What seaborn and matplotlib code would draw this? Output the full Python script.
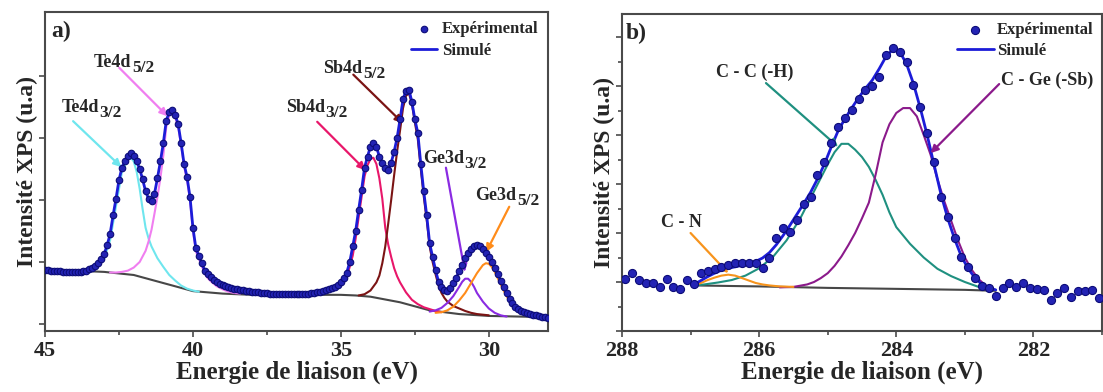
import numpy as np
import matplotlib
matplotlib.use('Agg')
import matplotlib.pyplot as plt
import matplotlib.transforms as mtransforms
import seaborn as sns

# ---------- panel a : Te4d / Sb4d / Ge3d ----------
energy_a = np.round(np.arange(45.0, 27.95, -0.1), 1)
exp_a = [0.87, 0.87, 0.86, 0.86, 0.85, 0.85, 0.84, 0.84, 0.84, 0.84,
         0.84, 0.84, 0.84, 0.85, 0.86, 0.88, 0.90, 0.94, 0.99, 1.05,
         1.13, 1.27, 1.45, 1.75, 2.02, 2.32, 2.52, 2.63, 2.71, 2.76,
         2.71, 2.62, 2.50, 2.33, 2.14, 2.02, 1.99, 2.10, 2.35, 2.62,
         2.92, 3.28, 3.42, 3.45, 3.37, 3.22, 2.92, 2.58, 2.37, 2.05,
         1.55, 1.22, 1.10, 0.98, 0.86, 0.80, 0.75, 0.71, 0.68, 0.65,
         0.63, 0.61, 0.59, 0.58, 0.57, 0.56, 0.55, 0.54, 0.53, 0.53,
         0.52, 0.51, 0.51, 0.50, 0.50, 0.50, 0.49, 0.49, 0.49, 0.48,
         0.48, 0.48, 0.48, 0.48, 0.48, 0.48, 0.48, 0.49, 0.49, 0.49,
         0.50, 0.50, 0.51, 0.52, 0.53, 0.54, 0.56, 0.58, 0.60, 0.63,
         0.68, 0.74, 0.83, 1.00, 1.25, 1.50, 1.84, 2.16, 2.52, 2.70,
         2.86, 2.92, 2.86, 2.70, 2.60, 2.51, 2.48, 2.60, 2.78, 3.00,
         3.30, 3.62, 3.76, 3.78, 3.58, 3.30, 3.08, 2.58, 2.14, 1.75,
         1.30, 1.08, 0.87, 0.68, 0.60, 0.54, 0.53, 0.58, 0.66, 0.74,
         0.86, 0.95, 1.06, 1.14, 1.21, 1.25, 1.27, 1.26, 1.21, 1.14,
         1.08, 1.00, 0.90, 0.80, 0.70, 0.60, 0.50, 0.41, 0.34, 0.28,
         0.24, 0.21, 0.19, 0.17, 0.16, 0.15, 0.14, 0.13, 0.12, 0.11,
         0.10]

base_a_x = [45, 44, 43, 42, 41, 40, 39, 38, 37, 36, 35, 34.5, 34, 33, 32, 31, 30, 29, 28]
base_a_y = [0.85, 0.86, 0.84, 0.79, 0.66, 0.53, 0.49, 0.47, 0.47, 0.47, 0.47, 0.46,
            0.44, 0.35, 0.22, 0.16, 0.13, 0.12, 0.11]

te32_x = [43.6, 43.3, 43.0, 42.8, 42.6, 42.4, 42.2, 42.1, 42.0, 41.9, 41.8, 41.7,
          41.6, 41.5, 41.4, 41.2, 41.0, 40.8, 40.6, 40.4, 40.2, 40.0, 39.8]
te32_y = [0.85, 0.90, 1.05, 1.35, 1.90, 2.45, 2.66, 2.68, 2.62, 2.45, 2.18, 1.85,
          1.55, 1.38, 1.25, 1.06, 0.92, 0.79, 0.70, 0.62, 0.57, 0.54, 0.52]

te52_x = [42.8, 42.6, 42.4, 42.2, 42.0, 41.8, 41.6, 41.5, 41.4, 41.3, 41.2, 41.1,
          41.0, 40.9, 40.8, 40.7, 40.6, 40.5, 40.4, 40.3, 40.2, 40.1, 40.0, 39.9,
          39.8, 39.7, 39.6, 39.5, 39.4, 39.2, 39.0, 38.8, 38.6, 38.4]
te52_y = [0.83, 0.83, 0.84, 0.86, 0.91, 1.00, 1.18, 1.33, 1.52, 1.78, 2.05, 2.35,
          2.72, 3.18, 3.36, 3.42, 3.33, 3.18, 2.88, 2.54, 2.32, 2.00, 1.50, 1.17,
          1.05, 0.93, 0.81, 0.74, 0.69, 0.61, 0.56, 0.52, 0.50, 0.49]

sb32_x = [35.2, 35.0, 34.8, 34.6, 34.5, 34.4, 34.3, 34.2, 34.1, 34.0, 33.9, 33.8,
          33.7, 33.6, 33.5, 33.4, 33.3, 33.2, 33.1, 33.0, 32.8, 32.6, 32.4, 32.2,
          32.0, 31.8, 31.6]
sb32_y = [0.58, 0.62, 0.75, 1.10, 1.38, 1.72, 2.05, 2.38, 2.56, 2.66, 2.68, 2.58,
          2.35, 2.02, 1.55, 1.28, 1.08, 0.90, 0.77, 0.67, 0.51, 0.39, 0.32, 0.27,
          0.24, 0.21, 0.19]

sb52_x = [34.4, 34.2, 34.0, 33.8, 33.7, 33.6, 33.5, 33.4, 33.3, 33.2, 33.1, 33.0,
          32.9, 32.8, 32.7, 32.6, 32.5, 32.4, 32.3, 32.2, 32.1, 32.0, 31.9, 31.8,
          31.7, 31.6, 31.5, 31.4, 31.2, 31.0, 30.8, 30.6, 30.4, 30.0]
sb52_y = [0.46, 0.48, 0.54, 0.67, 0.78, 0.98, 1.25, 1.62, 2.00, 2.40, 2.78, 3.12,
          3.48, 3.68, 3.72, 3.55, 3.25, 2.98, 2.50, 2.06, 1.68, 1.25, 1.00, 0.80,
          0.62, 0.50, 0.42, 0.36, 0.29, 0.25, 0.21, 0.18, 0.16, 0.14]

ge32_x = [32.0, 31.8, 31.6, 31.4, 31.2, 31.0, 30.9, 30.8, 30.7, 30.6, 30.5, 30.4,
          30.2, 30.0, 29.8, 29.6, 29.4]
ge32_y = [0.20, 0.22, 0.26, 0.34, 0.45, 0.60, 0.68, 0.73, 0.73, 0.68, 0.60, 0.50,
          0.36, 0.25, 0.18, 0.14, 0.12]

ge52_x = [31.8, 31.6, 31.4, 31.2, 31.0, 30.8, 30.6, 30.4, 30.2, 30.1, 30.0, 29.9,
          29.8, 29.7, 29.6, 29.5, 29.4, 29.3, 29.2, 29.0, 28.8, 28.6, 28.4]
ge52_y = [0.18, 0.19, 0.22, 0.28, 0.38, 0.50, 0.66, 0.82, 0.95, 0.98, 0.97, 0.92,
          0.84, 0.74, 0.64, 0.54, 0.45, 0.37, 0.31, 0.22, 0.17, 0.14, 0.12]

# ---------- panel b : C1s ----------
energy_b = np.round(np.arange(287.95, 281.0, -0.1), 2)
exp_b = [1.06, 1.18, 1.04, 0.98, 0.97, 0.89, 1.07, 0.90, 0.85, 1.04,
         0.95, 1.18, 1.23, 1.27, 1.31, 1.35, 1.38, 1.39, 1.39, 1.38,
         1.28, 1.49, 1.90, 2.10, 2.02, 2.27, 2.60, 2.74, 3.18, 3.45,
         3.83, 4.17, 4.34, 4.52, 4.73, 4.91, 5.00, 5.19, 5.63, 5.77,
         5.69, 5.49, 5.02, 4.57, 4.04, 3.45, 2.74, 2.33, 1.90, 1.51,
         1.31, 1.08, 0.92, 0.88, 0.71, 0.88, 0.98, 0.90, 0.98, 0.88,
         0.85, 0.84, 0.63, 0.77, 0.88, 0.69, 0.82, 0.82, 0.84, 0.67]

fit_b = [0.95, 1.03, 1.11, 1.18, 1.24, 1.28, 1.31, 1.34, 1.37, 1.42,
         1.49, 1.60, 1.76, 1.95, 2.16, 2.38, 2.60, 2.83, 3.10, 3.40,
         3.75, 4.08, 4.33, 4.55, 4.76, 4.95, 5.12, 5.35, 5.60, 5.75,
         5.70, 5.45, 5.05, 4.55, 4.00, 3.40, 2.80, 2.30, 1.88, 1.52,
         1.27, 1.08, 0.95, 0.88, 0.84]

base_b_x = [286.95, 286.0, 285.0, 284.0, 283.0, 282.55]
base_b_y = [0.93, 0.91, 0.88, 0.86, 0.84, 0.82]

cc_x = [286.95, 286.8, 286.6, 286.4, 286.2, 286.0, 285.8, 285.6, 285.4, 285.2,
        285.0, 284.9, 284.8, 284.7, 284.6, 284.5, 284.4, 284.3, 284.2, 284.1,
        284.0, 283.8, 283.6, 283.4, 283.2, 283.0, 282.8, 282.6]
cc_y = [0.93, 0.95, 0.99, 1.04, 1.13, 1.28, 1.51, 1.85, 2.30, 2.85,
        3.40, 3.65, 3.82, 3.82, 3.70, 3.55, 3.35, 3.08, 2.78, 2.42,
        2.12, 1.78, 1.50, 1.27, 1.12, 1.00, 0.90, 0.84]

cge_x = [285.7, 285.5, 285.3, 285.2, 285.1, 285.0, 284.9, 284.8, 284.7, 284.6,
         284.5, 284.4, 284.3, 284.2, 284.1, 284.0, 283.9, 283.8, 283.7, 283.6,
         283.5, 283.4, 283.3, 283.2, 283.1, 283.0, 282.9, 282.8, 282.7, 282.6]
cge_y = [0.89, 0.90, 0.95, 1.00, 1.08, 1.18, 1.33, 1.52, 1.75, 2.00,
         2.30, 2.62, 3.20, 3.85, 4.22, 4.45, 4.55, 4.55, 4.38, 4.00,
         3.60, 3.10, 2.65, 2.25, 1.85, 1.50, 1.25, 1.06, 0.93, 0.85]

cn_x = [286.95, 286.85, 286.75, 286.65, 286.55, 286.45, 286.35, 286.25, 286.15,
        286.05, 285.95, 285.85, 285.7, 285.5]
cn_y = [0.93, 0.98, 1.04, 1.09, 1.13, 1.15, 1.13, 1.08, 1.03, 0.98, 0.95, 0.93,
        0.91, 0.90]

SERIF = 'Liberation Serif'
sns.set_style("ticks")
plt.rcParams['font.family'] = [SERIF, 'DejaVu Serif']
plt.rcParams['font.weight'] = 'bold'

PT_FACE = '#2323b4'
PT_EDGE = '#0c0c78'
FIT = '#1c1cd8'
BASE = '#474747'
SPINE = '#4a4a4a'


def style_axis(ax, xticks, xlabels):
    for sp in ax.spines.values():
        sp.set_color(SPINE)
        sp.set_linewidth(1.5)
    ax.set_xticks(xticks, labels=xlabels, fontsize=16, fontweight='bold')
    ax.tick_params(direction='out', length=4, width=1.2, color=SPINE, pad=3)
    ax.tick_params(which='minor', direction='out', length=3, width=1.2, color=SPINE)
    ax.set_yticklabels([])
    ax.set_xlabel('Energie de liaison (eV)', fontsize=18, fontweight='bold', labelpad=0)
    ax.set_ylabel('Intensité XPS (u.a)', fontsize=17, fontweight='bold', labelpad=-2)


def pointer(ax, tip, start, color):
    ax.annotate('', xy=tip, xytext=start,
                arrowprops=dict(arrowstyle='-|>', color=color, lw=1.6,
                                mutation_scale=11, shrinkA=0, shrinkB=0))


def peak_label(ax, main, sub, xy):
    # main part ends at xy, subscript starts there and sits a little lower
    ax.text(xy[0], xy[1], main, ha='right', va='baseline', fontsize=13, fontweight='bold')
    off = mtransforms.offset_copy(ax.transData, fig=ax.figure, x=0.3, y=-4, units='points')
    ax.text(xy[0], xy[1], sub, ha='left', va='baseline', fontsize=12.5,
            fontweight='bold', transform=off)


fig = plt.figure(figsize=(11.03, 3.92), dpi=100)
ax_a = fig.add_axes([45 / 1103, 1 - 331 / 392, 503 / 1103, 319 / 392])
ax_b = fig.add_axes([622 / 1103, 1 - 331 / 392, 480 / 1103, 317 / 392])

# panel a
comps_a = [(te32_x, te32_y, '#6fe6ee'), (te52_x, te52_y, '#f07ef0'),
           (sb32_x, sb32_y, '#e8176a'), (sb52_x, sb52_y, '#7b1414'),
           (ge32_x, ge32_y, '#8a2be2'), (ge52_x, ge52_y, '#ff8c1a')]
sns.lineplot(x=base_a_x, y=base_a_y, color=BASE, lw=1.5, ax=ax_a, zorder=2)
for cx, cy, col in comps_a:
    sns.lineplot(x=cx, y=cy, color=col, lw=1.5, ax=ax_a, zorder=2)
sns.lineplot(x=energy_a, y=exp_a, color=FIT, lw=2.0, ax=ax_a, zorder=3, label='Simulé')
sns.scatterplot(x=energy_a, y=exp_a, color=PT_FACE, edgecolor=PT_EDGE, linewidth=0.8,
                s=22, ax=ax_a, zorder=4, label='Expérimental')
ax_a.set_xlim(45, 28)
ax_a.set_ylim(-0.113, 5.03)
ax_a.set_xticks([42.5, 37.5, 32.5], minor=True)
ax_a.set_yticks([0, 1, 2, 3, 4])
style_axis(ax_a, [45, 40, 35, 30], ['45', '40', '35', '30'])
ax_a.text(0.012, 0.94, 'a)', transform=ax_a.transAxes, fontsize=17, fontweight='bold',
          ha='left', va='center')
pointer(ax_a, (40.86, 3.35), (42.49, 4.13), '#f07ef0')
pointer(ax_a, (42.42, 2.53), (44.05, 3.27), '#6fe6ee')
pointer(ax_a, (32.91, 3.24), (34.58, 4.02), '#7b1414')
pointer(ax_a, (34.17, 2.48), (35.80, 3.26), '#e8176a')
pointer(ax_a, (30.81, 0.84), (31.45, 2.52), '#8a2be2')
pointer(ax_a, (30.09, 1.16), (29.31, 1.89), '#ff8c1a')
peak_label(ax_a, 'Te4d', '5/2', (42.08, 4.15))
peak_label(ax_a, 'Te4d', '3/2', (43.17, 3.42))
peak_label(ax_a, 'Sb4d', '5/2', (34.27, 4.05))
peak_label(ax_a, 'Sb4d', '3/2', (35.53, 3.42))
peak_label(ax_a, 'Ge3d', '3/2', (30.84, 2.60))
peak_label(ax_a, 'Ge3d', '5/2', (29.07, 2.00))
h, l = ax_a.get_legend_handles_labels()
ax_a.legend(h[::-1], l[::-1], loc='upper right', frameon=False, handlelength=1.6,
            handletextpad=0.3, borderaxespad=0.15, labelspacing=0.35,
            prop=dict(family=SERIF, weight='bold', size=12))

# panel b
sns.lineplot(x=base_b_x, y=base_b_y, color=BASE, lw=1.5, ax=ax_b, zorder=2)
sns.lineplot(x=cc_x, y=cc_y, color='#1f9080', lw=1.5, ax=ax_b, zorder=2)
sns.lineplot(x=cge_x, y=cge_y, color='#8b1a8b', lw=1.5, ax=ax_b, zorder=2)
sns.lineplot(x=cn_x, y=cn_y, color='#f7941d', lw=1.5, ax=ax_b, zorder=2)
sns.lineplot(x=energy_b[10:55], y=fit_b, color=FIT, lw=2.0, ax=ax_b, zorder=3, label='Simulé')
sns.scatterplot(x=energy_b, y=exp_b, color=PT_FACE, edgecolor=PT_EDGE, linewidth=0.8,
                s=34, ax=ax_b, zorder=4, label='Expérimental')
ax_b.set_xlim(288, 281.0)
ax_b.set_ylim(0, 6.47)
ax_b.set_xticks([287, 285, 283, 281], minor=True)
ax_b.set_yticks([0, 1, 2, 3, 4, 5, 6])
ax_b.set_yticks(np.arange(0.5, 6.5, 1.0), minor=True)
style_axis(ax_b, [288, 286, 284, 282], ['288', '286', '284', '282'])
ax_b.text(0.008, 0.94, 'b)', transform=ax_b.transAxes, fontsize=17, fontweight='bold',
          ha='left', va='center')
pointer(ax_b, (284.85, 3.76), (285.9, 5.06), '#1f9080')
pointer(ax_b, (283.5, 3.63), (282.5, 5.04), '#8b1a8b')
pointer(ax_b, (286.45, 1.18), (287.0, 2.0), '#f7941d')
ax_b.text(286.06, 5.27, 'C - C (-H)', ha='center', va='center', fontsize=13, fontweight='bold')
ax_b.text(281.8, 5.12, 'C - Ge (-Sb)', ha='center', va='center', fontsize=13, fontweight='bold')
ax_b.text(287.14, 2.22, 'C - N', ha='center', va='center', fontsize=13, fontweight='bold')
h, l = ax_b.get_legend_handles_labels()
ax_b.legend(h[::-1], l[::-1], loc='upper right', frameon=False, handlelength=2.2,
            handletextpad=0.2, borderaxespad=0.1, labelspacing=0.25,
            prop=dict(family=SERIF, weight='bold', size=12))

plt.savefig('out.png', dpi=100)
